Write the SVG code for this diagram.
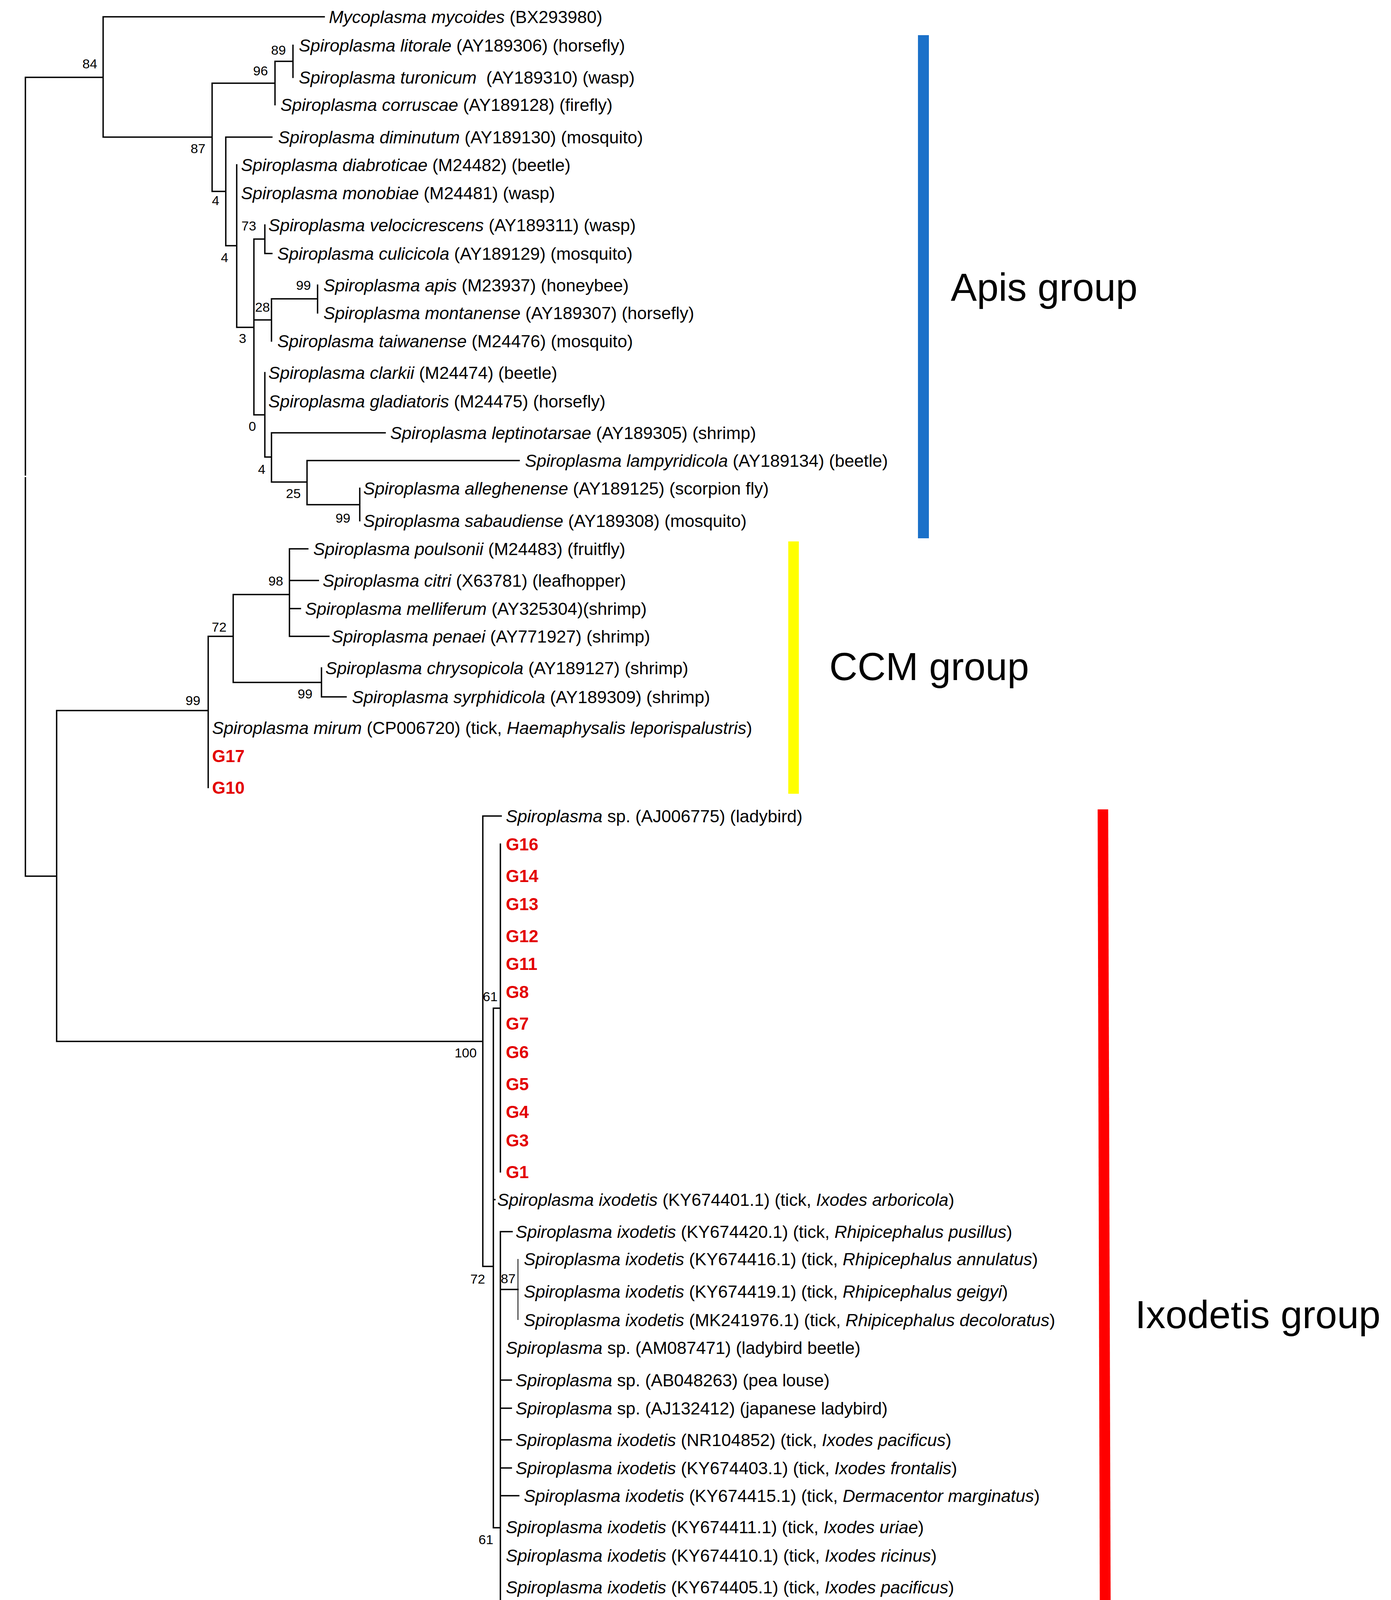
<svg xmlns="http://www.w3.org/2000/svg" width="3561" height="4849" viewBox="0 0 3561 4849">
<style>
text{font-family:"Liberation Sans",Arial,Helvetica,sans-serif;fill:#000}
.t{font-size:44.5px}
.i{font-style:italic}
.g{font-size:44px;font-weight:bold;fill:#e30000}
.bs{font-size:34px;text-anchor:middle}
.grp{font-size:100px}
.br{stroke:#000;stroke-width:3.5;fill:none;stroke-linecap:square}
.thin{stroke:#000;stroke-width:2;fill:none}
</style>
<rect width="3561" height="4849" fill="#fff"/>
<g id="connectors">
<path class="br" d="M65 198 V1216 M65 1223 V2243 M65 198 H264 M65 2243 H145
M264 43 V351 M264 43 H830 M264 351 H543
M543 213 V490 M543 213 H704 M543 490 H578
M704 157 V268 M704 157 H750
M750 116 V198
M578 351 V629 M578 351 H696 M578 629 H606
M606 422 V838 M606 838 H650
M650 612 V1062 M650 612 H678 M650 819 H695 M650 1062 H678
M678 576 V649 M678 649 H696
M695 765 V873 M695 765 H813
M813 730 V801
M678 954 V1170 M678 1170 H695
M695 1108 V1234 M695 1108 H986 M695 1234 H786
M786 1179 V1292 M786 1179 H1329 M786 1292 H921
M921 1250 V1333
M145 1819 V2666 M145 1819 H533 M145 2666 H1236
M533 1629 V2016 M533 1629 H597
M597 1522 V1747 M597 1522 H741 M597 1747 H823
M741 1405 V1629 M741 1405 H788 M741 1486 H815 M741 1558 H769 M741 1629 H842
M823 1710 V1784 M823 1784 H886
M1236 2089 V3242 M1236 2089 H1283 M1236 3242 H1263
M1263 2581 V3911 M1263 2581 H1281 M1263 3071 H1267 M1263 3911 H1281
M1281 2161 V3000
M1281 3153 V4668 M1281 3153 H1311 M1281 3301 H1326 M1281 3533 H1309 M1281 3605 H1309 M1281 3686 H1309 M1281 3758 H1309 M1281 3829 H1328"/>
<path class="thin" d="M1326 3223 V3379"/>
</g>
<g id="bootstrap">
<text class="bs" x="230" y="175">84</text>
<text class="bs" x="507" y="392">87</text>
<text class="bs" x="667" y="193">96</text>
<text class="bs" x="713" y="140">89</text>
<text class="bs" x="552" y="525">4</text>
<text class="bs" x="575" y="671">4</text>
<text class="bs" x="621" y="878">3</text>
<text class="bs" x="637" y="590">73</text>
<text class="bs" x="672" y="798">28</text>
<text class="bs" x="777" y="742">99</text>
<text class="bs" x="646" y="1103">0</text>
<text class="bs" x="670" y="1213">4</text>
<text class="bs" x="751" y="1275">25</text>
<text class="bs" x="878" y="1338">99</text>
<text class="bs" x="494" y="1805">99</text>
<text class="bs" x="561" y="1617">72</text>
<text class="bs" x="706" y="1499">98</text>
<text class="bs" x="781" y="1788">99</text>
<text class="bs" x="1192" y="2707">100</text>
<text class="bs" x="1255" y="2563">61</text>
<text class="bs" x="1223" y="3286">72</text>
<text class="bs" x="1301" y="3285">87</text>
<text class="bs" x="1244" y="3953">61</text>
</g>
<g id="leaf-BX293980"><text class="t" x="842" y="59"><tspan class="i">Mycoplasma mycoides</tspan> (BX293980)</text></g>
<g id="leaf-AY189306"><text class="t" x="765" y="132"><tspan class="i">Spiroplasma litorale</tspan> (AY189306) (horsefly)</text></g>
<g id="leaf-AY189310"><text class="t" x="765" y="214" xml:space="preserve"><tspan class="i">Spiroplasma turonicum</tspan>  (AY189310) (wasp)</text></g>
<g id="leaf-AY189128"><text class="t" x="718" y="284"><tspan class="i">Spiroplasma corruscae</tspan> (AY189128) (firefly)</text></g>
<g id="leaf-AY189130"><text class="t" x="712" y="367"><tspan class="i">Spiroplasma diminutum</tspan> (AY189130) (mosquito)</text></g>
<g id="leaf-M24482"><text class="t" x="617" y="438"><tspan class="i">Spiroplasma diabroticae</tspan> (M24482) (beetle)</text></g>
<g id="leaf-M24481"><text class="t" x="617" y="510"><tspan class="i">Spiroplasma monobiae</tspan> (M24481) (wasp)</text></g>
<g id="leaf-AY189311"><text class="t" x="687" y="592"><tspan class="i">Spiroplasma velocicrescens</tspan> (AY189311) (wasp)</text></g>
<g id="leaf-AY189129"><text class="t" x="710" y="665"><tspan class="i">Spiroplasma culicicola</tspan> (AY189129) (mosquito)</text></g>
<g id="leaf-M23937"><text class="t" x="828" y="746"><tspan class="i">Spiroplasma apis</tspan> (M23937) (honeybee)</text></g>
<g id="leaf-AY189307"><text class="t" x="828" y="817"><tspan class="i">Spiroplasma montanense</tspan> (AY189307) (horsefly)</text></g>
<g id="leaf-M24476"><text class="t" x="710" y="889"><tspan class="i">Spiroplasma taiwanense</tspan> (M24476) (mosquito)</text></g>
<g id="leaf-M24474"><text class="t" x="687" y="970"><tspan class="i">Spiroplasma clarkii</tspan> (M24474) (beetle)</text></g>
<g id="leaf-M24475"><text class="t" x="687" y="1043"><tspan class="i">Spiroplasma gladiatoris</tspan> (M24475) (horsefly)</text></g>
<g id="leaf-AY189305"><text class="t" x="999" y="1124"><tspan class="i">Spiroplasma leptinotarsae</tspan> (AY189305) (shrimp)</text></g>
<g id="leaf-AY189134"><text class="t" x="1344" y="1195"><tspan class="i">Spiroplasma lampyridicola</tspan> (AY189134) (beetle)</text></g>
<g id="leaf-AY189125"><text class="t" x="930" y="1266"><tspan class="i">Spiroplasma alleghenense</tspan> (AY189125) (scorpion fly)</text></g>
<g id="leaf-AY189308"><text class="t" x="930" y="1349"><tspan class="i">Spiroplasma sabaudiense</tspan> (AY189308) (mosquito)</text></g>
<g id="leaf-M24483"><text class="t" x="802" y="1421"><tspan class="i">Spiroplasma poulsonii</tspan> (M24483) (fruitfly)</text></g>
<g id="leaf-X63781"><text class="t" x="826" y="1502"><tspan class="i">Spiroplasma citri</tspan> (X63781) (leafhopper)</text></g>
<g id="leaf-AY325304"><text class="t" x="781" y="1574"><tspan class="i">Spiroplasma melliferum</tspan> (AY325304)(shrimp)</text></g>
<g id="leaf-AY771927"><text class="t" x="849" y="1645"><tspan class="i">Spiroplasma penaei</tspan> (AY771927) (shrimp)</text></g>
<g id="leaf-AY189127"><text class="t" x="833" y="1726"><tspan class="i">Spiroplasma chrysopicola</tspan> (AY189127) (shrimp)</text></g>
<g id="leaf-AY189309"><text class="t" x="901" y="1800"><tspan class="i">Spiroplasma syrphidicola</tspan> (AY189309) (shrimp)</text></g>
<g id="leaf-CP006720"><text class="t" x="543" y="1879"><tspan class="i">Spiroplasma mirum</tspan> (CP006720) (tick, <tspan class="i">Haemaphysalis leporispalustris</tspan>)</text></g>
<g id="leaf-G17"><text class="g" x="543" y="1951">G17</text></g>
<g id="leaf-G10"><text class="g" x="543" y="2032">G10</text></g>
<g id="leaf-AJ006775"><text class="t" x="1295" y="2105"><tspan class="i">Spiroplasma</tspan> sp. (AJ006775) (ladybird)</text></g>
<g id="leaf-G16"><text class="g" x="1295" y="2177">G16</text></g>
<g id="leaf-G14"><text class="g" x="1295" y="2258">G14</text></g>
<g id="leaf-G13"><text class="g" x="1295" y="2330">G13</text></g>
<g id="leaf-G12"><text class="g" x="1295" y="2412">G12</text></g>
<g id="leaf-G11"><text class="g" x="1295" y="2483">G11</text></g>
<g id="leaf-G8"><text class="g" x="1295" y="2555">G8</text></g>
<g id="leaf-G7"><text class="g" x="1295" y="2636">G7</text></g>
<g id="leaf-G6"><text class="g" x="1295" y="2709">G6</text></g>
<g id="leaf-G5"><text class="g" x="1295" y="2791">G5</text></g>
<g id="leaf-G4"><text class="g" x="1295" y="2862">G4</text></g>
<g id="leaf-G3"><text class="g" x="1295" y="2935">G3</text></g>
<g id="leaf-G1"><text class="g" x="1295" y="3016">G1</text></g>
<g id="leaf-KY674401"><text class="t" x="1273" y="3087"><tspan class="i">Spiroplasma ixodetis</tspan> (KY674401.1) (tick, <tspan class="i">Ixodes arboricola</tspan>)</text></g>
<g id="leaf-KY674420"><text class="t" x="1320" y="3169"><tspan class="i">Spiroplasma ixodetis</tspan> (KY674420.1) (tick, <tspan class="i">Rhipicephalus pusillus</tspan>)</text></g>
<g id="leaf-KY674416"><text class="t" x="1341" y="3239"><tspan class="i">Spiroplasma ixodetis</tspan> (KY674416.1) (tick, <tspan class="i">Rhipicephalus annulatus</tspan>)</text></g>
<g id="leaf-KY674419"><text class="t" x="1341" y="3322"><tspan class="i">Spiroplasma ixodetis</tspan> (KY674419.1) (tick, <tspan class="i">Rhipicephalus geigyi</tspan>)</text></g>
<g id="leaf-MK241976"><text class="t" x="1341" y="3395"><tspan class="i">Spiroplasma ixodetis</tspan> (MK241976.1) (tick, <tspan class="i">Rhipicephalus decoloratus</tspan>)</text></g>
<g id="leaf-AM087471"><text class="t" x="1295" y="3466"><tspan class="i">Spiroplasma</tspan> sp. (AM087471) (ladybird beetle)</text></g>
<g id="leaf-AB048263"><text class="t" x="1320" y="3549"><tspan class="i">Spiroplasma</tspan> sp. (AB048263) (pea louse)</text></g>
<g id="leaf-AJ132412"><text class="t" x="1320" y="3621"><tspan class="i">Spiroplasma</tspan> sp. (AJ132412) (japanese ladybird)</text></g>
<g id="leaf-NR104852"><text class="t" x="1320" y="3702"><tspan class="i">Spiroplasma ixodetis</tspan> (NR104852) (tick, <tspan class="i">Ixodes pacificus</tspan>)</text></g>
<g id="leaf-KY674403"><text class="t" x="1320" y="3774"><tspan class="i">Spiroplasma ixodetis</tspan> (KY674403.1) (tick, <tspan class="i">Ixodes frontalis</tspan>)</text></g>
<g id="leaf-KY674415"><text class="t" x="1341" y="3845"><tspan class="i">Spiroplasma ixodetis</tspan> (KY674415.1) (tick, <tspan class="i">Dermacentor marginatus</tspan>)</text></g>
<g id="leaf-KY674411"><text class="t" x="1295" y="3925"><tspan class="i">Spiroplasma ixodetis</tspan> (KY674411.1) (tick, <tspan class="i">Ixodes uriae</tspan>)</text></g>
<g id="leaf-KY674410"><text class="t" x="1295" y="3998"><tspan class="i">Spiroplasma ixodetis</tspan> (KY674410.1) (tick, <tspan class="i">Ixodes ricinus</tspan>)</text></g>
<g id="leaf-KY674405"><text class="t" x="1295" y="4079"><tspan class="i">Spiroplasma ixodetis</tspan> (KY674405.1) (tick, <tspan class="i">Ixodes pacificus</tspan>)</text></g>
<g id="leaf-KY674404"><text class="t" x="1295" y="4151"><tspan class="i">Spiroplasma ixodetis</tspan> (KY674404.1) (tick, <tspan class="i">Ixodes kerguelenensis</tspan>)</text></g>
<g id="leaf-G2"><text class="g" x="1295" y="4222">G2</text></g>
<g id="leaf-G9"><text class="g" x="1295" y="4303">G9</text></g>
<g id="leaf-G15"><text class="g" x="1295" y="4374">G15</text></g>
<g id="leaf-KP967685"><text class="t" x="1295" y="4457"><tspan class="i">Spiroplasma ixodetis</tspan> (KP967685) (tick, <tspan class="i">Ixodes ricinus</tspan>)</text></g>
<g id="leaf-AJ245996"><text class="t" x="1295" y="4529"><tspan class="i">Spiroplasma</tspan> sp. (AJ245996) (butterfly)</text></g>
<g id="leaf-AB553862"><text class="t" x="1295" y="4602"><tspan class="i">Spiroplasma</tspan> sp. (AB553862) (planthopper)</text></g>
<g id="leaf-AB030022"><text class="t" x="1295" y="4684"><tspan class="i">Spiroplasma</tspan> sp. (AB030022) (mealybug)</text></g>
<g id="group-apis">
<rect x="2350" y="90" width="28" height="1288" fill="#1b71c9"/>
<text class="grp" x="2434" y="770">Apis group</text>
</g>
<g id="group-ccm">
<rect x="2018" y="1386" width="27" height="646" fill="#ffff00"/>
<text class="grp" x="2123" y="1741">CCM group</text>
</g>
<g id="group-ixodetis">
<polygon points="2810,2072 2837,2072 2845,4661 2817,4661" fill="#ff0000"/>
<text class="grp" x="2906" y="3400">Ixodetis group</text>
</g>
<g id="scale-bar">
<path class="br" d="M227 4775 H417 M227 4757 V4793 M417 4757 V4793"/>
<text x="317" y="4817" font-size="32" text-anchor="middle">0.020</text>
</g>
</svg>
